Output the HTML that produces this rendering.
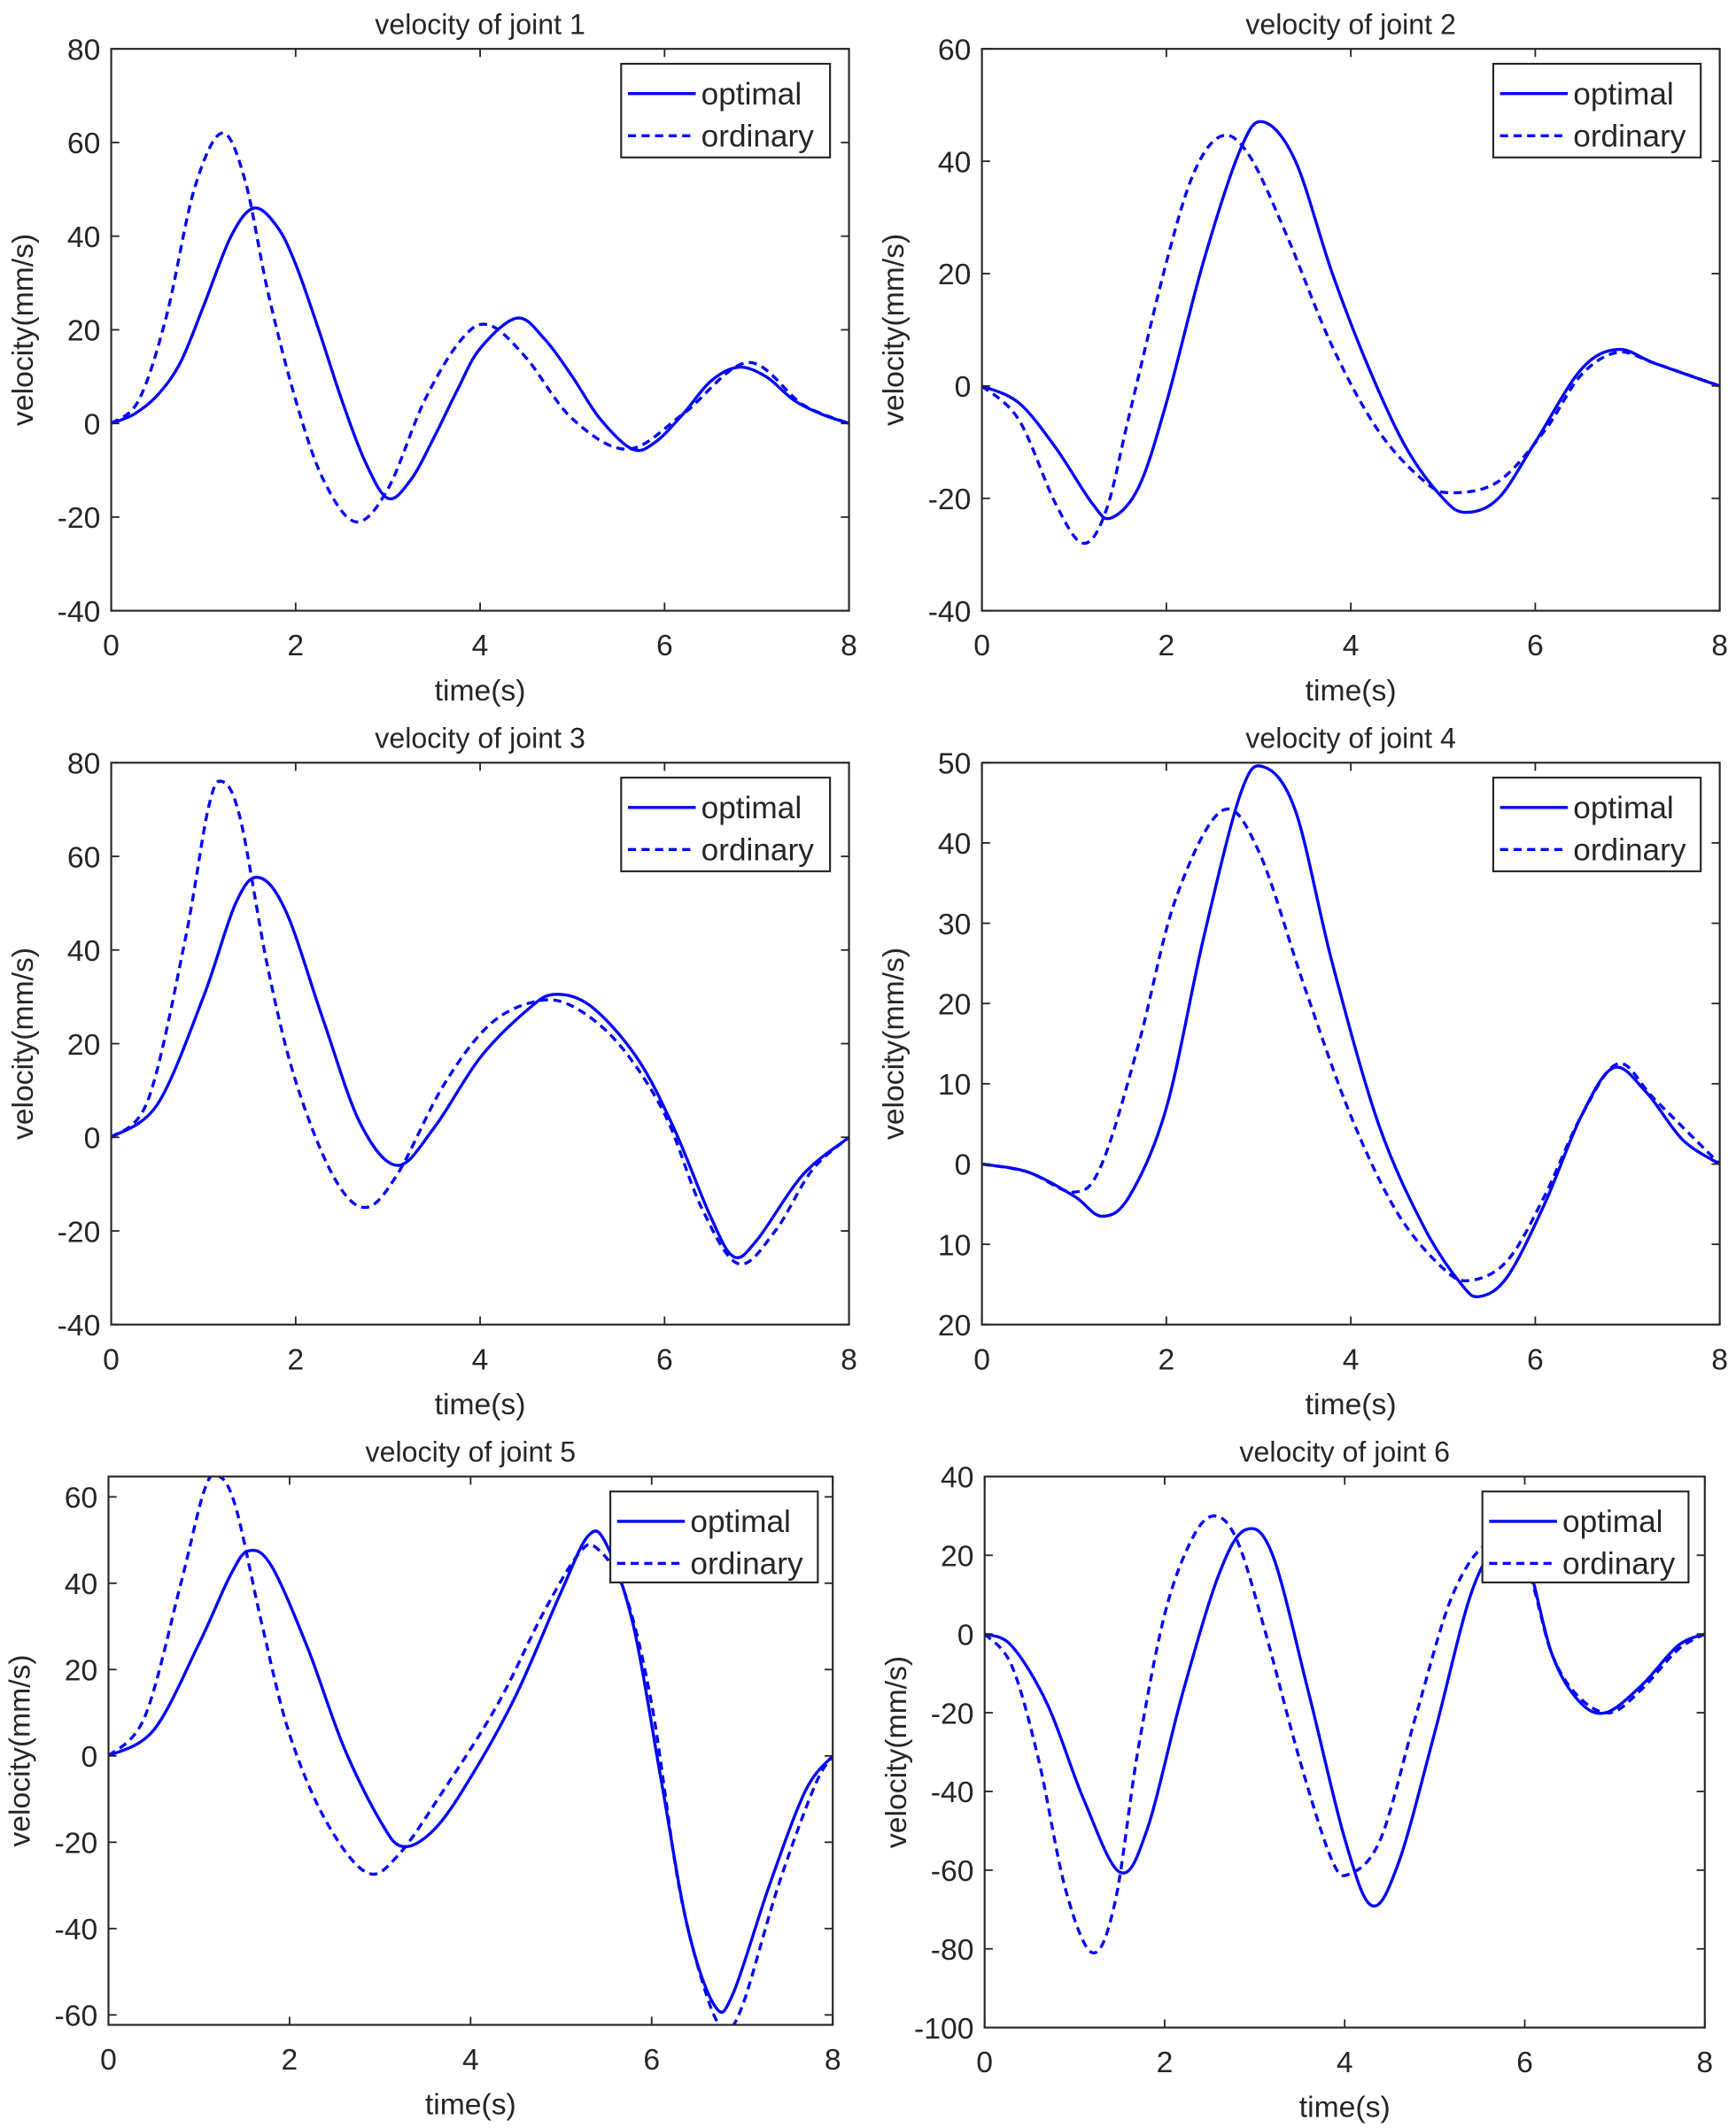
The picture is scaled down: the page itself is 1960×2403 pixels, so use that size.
<!DOCTYPE html>
<html><head><meta charset="utf-8"><style>
html,body{margin:0;padding:0;background:#fff;}
svg{display:block;}
text{font-family:"Liberation Sans",Arial,sans-serif;fill:#262626;}
</style></head><body>
<svg id="s" width="1960" height="2403" viewBox="0 0 1280 1568" preserveAspectRatio="none" xmlns="http://www.w3.org/2000/svg"></svg>
<script>
const S=document.getElementById('s');let h='';
function cr(pts,X,Y){
 let p=pts.map(q=>[X(q[0]),Y(q[1])]);let d='M'+p[0][0].toFixed(2)+','+p[0][1].toFixed(2);
 for(let i=0;i<p.length-1;i++){const p0=p[i-1]||p[i],p1=p[i],p2=p[i+1],p3=p[i+2]||p[i+1];
 const c1=[p1[0]+(p2[0]-p0[0])/6,p1[1]+(p2[1]-p0[1])/6],c2=[p2[0]-(p3[0]-p1[0])/6,p2[1]-(p3[1]-p1[1])/6];
 d+='C'+c1.map(v=>v.toFixed(2))+' '+c2.map(v=>v.toFixed(2))+' '+p2.map(v=>v.toFixed(2));}
 return d;}
function plot(o){
 const {L,R,T,B,y0,y1,yt,title,opt,ord,lg}=o;
 const X=x=>L+(R-L)*x/8, Y=v=>T+(B-T)*(y0-v)/(y0-y1);
 h+=`<defs><clipPath id="c${T}${L}"><rect x="${L}" y="${T}" width="${R-L}" height="${B-T}"/></clipPath></defs>`;
 h+=`<g clip-path="url(#c${T}${L})"><path d="${cr(opt,X,Y)}" fill="none" stroke="#0000ff" stroke-width="2.2"/><path d="${cr(ord,X,Y)}" fill="none" stroke="#0000ff" stroke-width="2.2" stroke-dasharray="6,4"/></g>`;
 h+=`<rect x="${L}" y="${T}" width="${R-L}" height="${B-T}" fill="none" stroke="#262626" stroke-width="1.4"/>`;
 for(let i=0;i<=8;i+=2){const x=X(i);h+=`<line x1="${x}" y1="${B}" x2="${x}" y2="${B-6}" stroke="#262626" stroke-width="1.2"/><line x1="${x}" y1="${T}" x2="${x}" y2="${T+6}" stroke="#262626" stroke-width="1.2"/><text x="${x}" y="${B+33}" font-size="22" text-anchor="middle">${i}</text>`;}
 yt.forEach(t=>{const y=Y(t[0]);h+=`<line x1="${L}" y1="${y}" x2="${L+6}" y2="${y}" stroke="#262626" stroke-width="1.2"/><line x1="${R}" y1="${y}" x2="${R-6}" y2="${y}" stroke="#262626" stroke-width="1.2"/><text x="${L-8}" y="${y+8}" font-size="22" text-anchor="end">${t[1]}</text>`;});
 h+=`<text x="${(L+R)/2}" y="${T-11}" font-size="21" text-anchor="middle">${title}</text>`;
 h+=`<text x="${(L+R)/2}" y="${B+66}" font-size="22" text-anchor="middle">time(s)</text>`;
 h+=`<text transform="translate(${L-58},${(T+B)/2}) rotate(-90)" font-size="22" text-anchor="middle">velocity(mm/s)</text>`;
 const [lx,ly,lw,lh]=lg;
 h+=`<rect x="${lx}" y="${ly}" width="${lw}" height="${lh}" fill="#fff" stroke="#262626" stroke-width="1.4"/>`;
 h+=`<line x1="${lx+5}" y1="${ly+22}" x2="${lx+55}" y2="${ly+22}" stroke="#0000ff" stroke-width="2.2"/><text x="${lx+59}" y="${ly+30}" font-size="23">optimal</text>`;
 h+=`<line x1="${lx+5}" y1="${ly+53}" x2="${lx+55}" y2="${ly+53}" stroke="#0000ff" stroke-width="2.2" stroke-dasharray="6,4"/><text x="${lx+59}" y="${ly+61}" font-size="23">ordinary</text>`;
}
const T=(a,b,s)=>{let r=[];for(let v=a;v>=b;v-=s)r.push([v,String(v)]);return r;};
plot({L:82,R:626,T:36,B:450,y0:80,y1:-40,yt:T(80,-40,20),title:'velocity of joint 1',lg:[458,47,154,69],
opt:[[0,0],[0.25,2],[0.5,6],[0.75,13],[1,25],[1.3,40],[1.55,46],[1.8,42],[2,34],[2.25,20],[2.5,5],[2.75,-8],[3,-16],[3.25,-12],[3.5,-3],[3.75,7],[4,16],[4.4,22.5],[4.7,18],[5,10],[5.3,1],[5.65,-5.5],[5.9,-4],[6.2,2],[6.5,9],[6.8,12],[7.1,10],[7.4,5],[7.7,2],[8,0]],
ord:[[0,0],[0.3,5],[0.6,23],[0.9,50],[1.2,62],[1.45,52],[1.7,28],[2,5],[2.3,-12],[2.65,-21],[3,-14],[3.4,5],[3.8,18],[4.1,21],[4.5,14],[5,1],[5.6,-5.5],[6.2,2],[6.9,13],[7.5,4],[8,0]]});
plot({L:724,R:1268,T:36,B:450,y0:60,y1:-40,yt:T(60,-40,20),title:'velocity of joint 2',lg:[1101,47,153,69],
opt:[[0,0],[0.4,-3],[0.8,-11],[1.2,-21],[1.4,-23.5],[1.7,-18],[2,-3],[2.4,22],[2.8,42],[3.05,47],[3.4,40],[3.8,20],[4.2,3],[4.6,-11],[5,-20],[5.25,-22.5],[5.6,-20],[6,-10],[6.5,3],[6.9,6.5],[7.3,4],[8,0]],
ord:[[0,0],[0.4,-6],[0.8,-21],[1.1,-28],[1.35,-22],[1.6,-5],[2,22],[2.3,38],[2.6,44.5],[2.9,41],[3.3,27],[3.8,7],[4.3,-8],[4.8,-17],[5.1,-19],[5.6,-17],[6.1,-8],[6.5,2],[6.9,6],[7.3,4],[8,0]]});
plot({L:82,R:626,T:562,B:976,y0:80,y1:-40,yt:T(80,-40,20),title:'velocity of joint 3',lg:[458,573,154,69],
opt:[[0,0],[0.5,7],[1,30],[1.35,50],[1.6,55.5],[1.9,48],[2.3,25],[2.7,3],[3.1,-6],[3.5,2],[4,17],[4.5,27],[4.8,30.5],[5.2,28],[5.7,17],[6.1,2],[6.5,-17],[6.75,-25.5],[7,-22],[7.5,-8],[8,0]],
ord:[[0,0],[0.4,8],[0.8,42],[1.05,70],[1.2,76],[1.4,68],[1.7,36],[2,12],[2.4,-8],[2.75,-15],[3.1,-8],[3.6,11],[4.1,24],[4.6,29],[5,28],[5.5,20],[6,5],[6.4,-15],[6.8,-27],[7.2,-20],[7.6,-7],[8,0]]});
plot({L:724,R:1268,T:562,B:976,y0:50,y1:-20,yt:[[50,'50'],[40,'40'],[30,'30'],[20,'20'],[10,'10'],[0,'0'],[-10,'10'],[-20,'20']],title:'velocity of joint 4',lg:[1101,573,153,69],
opt:[[0,0],[0.5,-1],[1,-4],[1.3,-6.5],[1.6,-4],[2,7],[2.4,28],[2.8,46],[3.05,49.5],[3.4,44],[3.8,25],[4.3,5],[4.8,-8],[5.2,-15],[5.4,-16.5],[5.7,-14],[6.1,-5],[6.5,6],[6.85,12],[7.2,9],[7.6,3],[8,0]],
ord:[[0,0],[0.5,-1],[1,-3.5],[1.3,0],[1.7,15],[2.1,33],[2.6,44],[3,39],[3.5,22],[4,6],[4.5,-6],[5,-13],[5.3,-14.5],[5.7,-12],[6.1,-4],[6.5,6],[6.9,12.5],[7.3,8],[8,0]]});
plot({L:80,R:614,T:1088,B:1492,y0:64.7,y1:-62.3,yt:T(60,-60,20),title:'velocity of joint 5',lg:[450,1099,153,67],
opt:[[0,0],[0.5,6],[1,26],[1.35,42],[1.55,47.5],[1.8,44],[2.2,25],[2.6,2],[3,-15],[3.25,-21],[3.6,-17],[4,-5],[4.5,14],[5,38],[5.3,51],[5.5,49],[5.8,30],[6.1,-5],[6.4,-40],[6.7,-58],[6.9,-55],[7.3,-30],[7.7,-8],[8,0]],
ord:[[0,0],[0.4,9],[0.8,40],[1.05,61],[1.2,65],[1.4,58],[1.7,30],[2,5],[2.4,-15],[2.85,-27],[3.2,-23],[3.7,-8],[4.3,12],[4.8,33],[5.2,47],[5.4,48],[5.7,38],[6,12],[6.3,-30],[6.6,-55],[6.8,-63],[7,-58],[7.4,-30],[7.8,-7],[8,0]]});
plot({L:726,R:1257,T:1088,B:1494,y0:40,y1:-100,yt:T(40,-100,20),title:'velocity of joint 6',lg:[1093,1099,152,67],
opt:[[0,0],[0.3,-3],[0.7,-18],[1.1,-42],[1.5,-60.5],[1.8,-50],[2.2,-15],[2.6,15],[2.9,26.5],[3.2,20],[3.6,-15],[4,-52],[4.3,-69],[4.6,-58],[5,-25],[5.4,10],[5.7,22],[6,20],[6.3,-5],[6.6,-17],[6.9,-20],[7.3,-13],[7.7,-3],[8,0]],
ord:[[0,0],[0.3,-8],[0.6,-32],[0.9,-65],[1.2,-81],[1.45,-68],[1.7,-30],[2,5],[2.3,24],[2.55,30],[2.8,24],[3.1,2],[3.5,-32],[3.85,-57],[4.05,-61],[4.4,-52],[4.8,-20],[5.2,10],[5.6,23],[6,18],[6.3,-5],[6.6,-16],[6.95,-20],[7.3,-14],[7.7,-4],[8,0]]});
S.innerHTML=h;
</script>
</body></html>
